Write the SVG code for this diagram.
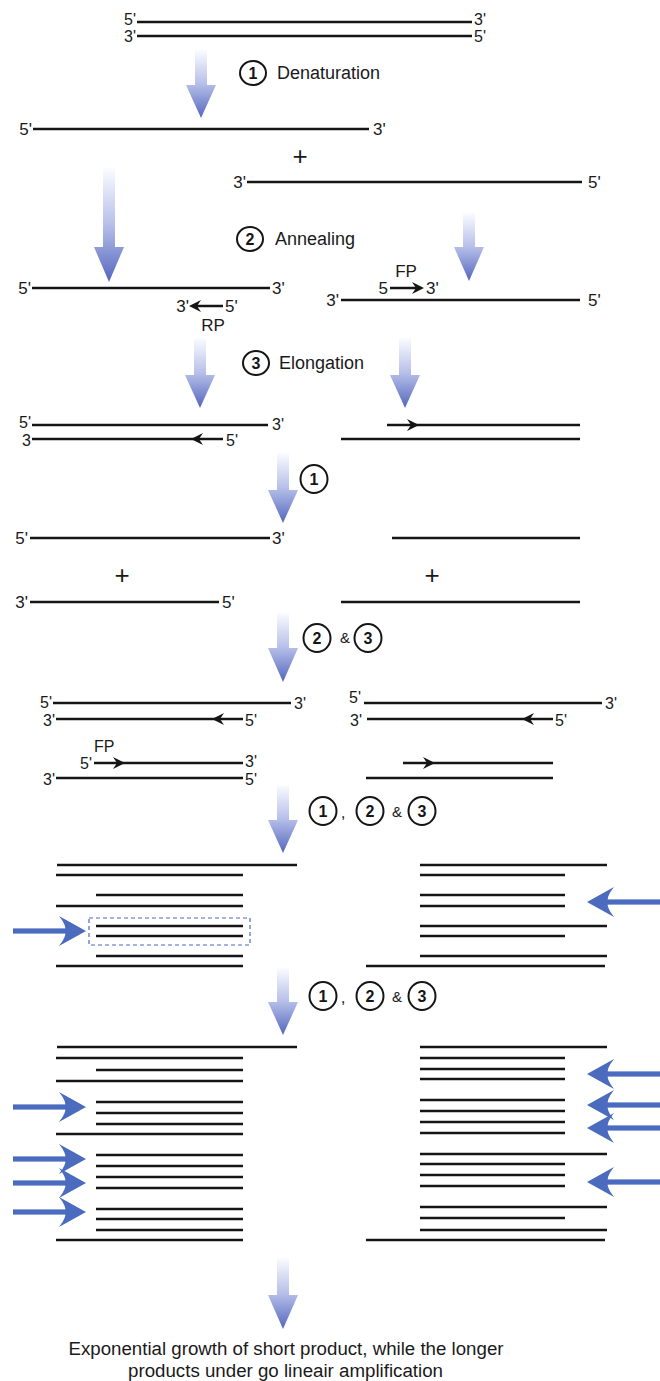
<svg xmlns="http://www.w3.org/2000/svg" width="660" height="1381" viewBox="0 0 660 1381">
<defs>
<linearGradient id="gr" x1="0" y1="0" x2="0" y2="1">
<stop offset="0" stop-color="#fbfcff"/>
<stop offset="0.5" stop-color="#b6bfe9"/>
<stop offset="1" stop-color="#5466bd"/>
</linearGradient>
<path id="ah" d="M0,0 L-12,-6 L-8,0 L-12,6 Z" fill="#151515"/>
<g id="ba" fill="#4b6bbf"><rect x="-73" y="-2.6" width="53" height="5.2"/><path d="M0,0 L-27,-15 Q-19,-5 -21,0 Q-19,5 -27,15 Z"/></g>
</defs>
<style>
.s{stroke:#151515;stroke-width:2.6;fill:none}
.t{font-family:"Liberation Sans",Arial,sans-serif;font-size:17px;fill:#1a1a1a}
.k{font-size:16px}
.e{text-anchor:end}
.m{text-anchor:middle}
.L{font-family:"Liberation Sans",Arial,sans-serif;font-size:18px;fill:#1a1a1a}
.c{fill:none;stroke:#151515;stroke-width:2}
.n{font-family:"Liberation Sans",Arial,sans-serif;font-size:16px;font-weight:bold;fill:#151515;text-anchor:middle}
.p{font-family:"Liberation Sans",Arial,sans-serif;font-size:26px;fill:#1a1a1a;text-anchor:middle}
.g{fill:url(#gr)}
</style>
<rect width="660" height="1381" fill="#ffffff"/>

<g id="connectors">
<path class="g" d="M195,50H207V85H216L201,118L186,85H195Z"/>
<path class="g" d="M103,168H115V247H124L109,282L94,247H103Z"/>
<path class="g" d="M463,213H475V247H484L469,281L454,247H463Z"/>
<path class="g" d="M194,338H206V375H215L200,408L185,375H194Z"/>
<path class="g" d="M399,338H411V375H420L405,408L390,375H399Z"/>
<path class="g" d="M277,453H289V490H298L283,523L268,490H277Z"/>
<path class="g" d="M277,613H289V648H298L283,682L268,648H277Z"/>
<path class="g" d="M277,785H289V820H298L283,853L268,820H277Z"/>
<path class="g" d="M277,968H289V1002H298L283,1035L268,1002H277Z"/>
<path class="g" d="M277,1258H289V1295H298L283,1329L268,1295H277Z"/>
</g>

<g id="start-duplex">
<path class="s" d="M137,22H472M137,36H472"/>
<text class="t k e" x="136" y="25">5'</text>
<text class="t k" x="474" y="25">3'</text>
<text class="t k e" x="136" y="42">3'</text>
<text class="t k" x="474" y="42">5'</text>
</g>

<g id="step1">
<ellipse class="c" cx="253" cy="73" rx="13" ry="12"/>
<text class="n" x="253" y="79">1</text>
<text class="L" x="277" y="79">Denaturation</text>
</g>

<g id="single-strands">
<path class="s" d="M33,129H369M247,182H582"/>
<text class="t e" x="32" y="135">5'</text>
<text class="t" x="373" y="135">3'</text>
<text class="p" x="300" y="165">+</text>
<text class="t e" x="246" y="188">3'</text>
<text class="t" x="588" y="188">5'</text>
</g>

<g id="step2">
<ellipse class="c" cx="250" cy="239" rx="13" ry="12"/>
<text class="n" x="250" y="245">2</text>
<text class="L" x="275" y="245">Annealing</text>
</g>

<g id="annealed-left">
<path class="s" d="M32,288H270M223,306H196"/>
<use href="#ah" transform="translate(189,306) scale(-1,1)"/>
<text class="t e" x="31" y="294">5'</text>
<text class="t" x="272" y="294">3'</text>
<text class="t e" x="189" y="312">3'</text>
<text class="t" x="225" y="312">5'</text>
<text class="t m" x="213" y="331">RP</text>
</g>

<g id="annealed-right">
<path class="s" d="M341,300H580M390,288H417"/>
<use href="#ah" transform="translate(424,288)"/>
<text class="t e" x="339" y="306">3'</text>
<text class="t" x="588" y="306">5'</text>
<text class="t e" x="388" y="294">5</text>
<text class="t" x="426" y="294">3'</text>
<text class="t m" x="406" y="277">FP</text>
</g>

<g id="step3">
<ellipse class="c" cx="256" cy="363" rx="13" ry="12"/>
<text class="n" x="256" y="369">3</text>
<text class="L" x="279" y="369">Elongation</text>
</g>

<g id="elongated-left">
<path class="s" d="M32,425H268M32,439H223"/>
<use href="#ah" transform="translate(191,439) scale(-1,1)"/>
<text class="t k e" x="31" y="428">5'</text>
<text class="t k" x="272" y="430">3'</text>
<text class="t k e" x="31" y="446">3</text>
<text class="t k" x="226" y="446">5'</text>
</g>

<g id="elongated-right">
<path class="s" d="M387,425H580M341,439H580"/>
<use href="#ah" transform="translate(419,425)"/>
</g>

<g id="cycle2-step1">
<ellipse class="c" cx="314" cy="479" rx="13.5" ry="14"/>
<text class="n" x="314" y="485">1</text>
</g>

<g id="cycle2-strands">
<path class="s" d="M30,538H270M392,538H580M30,602H219M341,602H580"/>
<text class="t e" x="28" y="544">5'</text>
<text class="t" x="272" y="544">3'</text>
<text class="p" x="122" y="584">+</text>
<text class="p" x="432" y="584">+</text>
<text class="t e" x="28" y="608">3'</text>
<text class="t" x="222" y="608">5'</text>
</g>

<g id="cycle2-step23">
<ellipse class="c" cx="317" cy="638" rx="13.5" ry="14"/>
<text class="n" x="317" y="644">2</text>
<text class="t m" x="345" y="643" style="font-size:15px">&amp;</text>
<ellipse class="c" cx="368" cy="638" rx="13.5" ry="14"/>
<text class="n" x="368" y="644">3</text>
</g>

<g id="cycle2-products-left">
<path class="s" d="M53,703H291M56,719H243M94,763H243M56,778H243"/>
<use href="#ah" transform="translate(212,719) scale(-1,1)"/>
<use href="#ah" transform="translate(125,763)"/>
<text class="t k e" x="52" y="708">5'</text>
<text class="t k" x="294" y="709">3'</text>
<text class="t k e" x="55" y="726">3'</text>
<text class="t k" x="245" y="726">5'</text>
<text class="t k" x="94" y="752">FP</text>
<text class="t k e" x="92" y="769">5'</text>
<text class="t k" x="245" y="767">3'</text>
<text class="t k e" x="55" y="785">3'</text>
<text class="t k" x="245" y="785">5'</text>
</g>

<g id="cycle2-products-right">
<path class="s" d="M364,703H602M367,719H553M403,763H553M366,778H553"/>
<use href="#ah" transform="translate(522,719) scale(-1,1)"/>
<use href="#ah" transform="translate(435,763)"/>
<text class="t k e" x="361" y="703">5'</text>
<text class="t k" x="605" y="709">3'</text>
<text class="t k e" x="362" y="726">3'</text>
<text class="t k" x="555" y="726">5'</text>
</g>

<g id="cycle3-steps">
<ellipse class="c" cx="323" cy="811" rx="13.5" ry="14"/>
<text class="n" x="323" y="817">1</text>
<text class="t m" x="343" y="818">,</text>
<ellipse class="c" cx="370" cy="811" rx="13.5" ry="14"/>
<text class="n" x="370" y="817">2</text>
<text class="t m" x="397" y="817" style="font-size:15px">&amp;</text>
<ellipse class="c" cx="422" cy="811" rx="13.5" ry="14"/>
<text class="n" x="422" y="817">3</text>
</g>

<g id="cycle3-products-left">
<path class="s" d="M57,865H297M56,875H243M96,895H243M56,906H243M96,926H243M96,936H243M96,956H243M56,966H243"/>
<rect x="89" y="918" width="161" height="27" fill="none" stroke="#4b6bbf" stroke-width="1.2" stroke-dasharray="4,3"/>
<use href="#ba" transform="translate(86,931)"/>
</g>

<g id="cycle3-products-right">
<path class="s" d="M420,865H607M420,875H565M420,895H565M420,906H565M420,926H607M420,936H565M420,956H607M366,966H605"/>
<use href="#ba" transform="translate(587,902) scale(-1,1)"/>
</g>

<g id="cycle4-steps">
<ellipse class="c" cx="323" cy="996" rx="13.5" ry="14"/>
<text class="n" x="323" y="1002">1</text>
<text class="t m" x="343" y="1003">,</text>
<ellipse class="c" cx="370" cy="996" rx="13.5" ry="14"/>
<text class="n" x="370" y="1002">2</text>
<text class="t m" x="397" y="1002" style="font-size:15px">&amp;</text>
<ellipse class="c" cx="422" cy="996" rx="13.5" ry="14"/>
<text class="n" x="422" y="1002">3</text>
</g>

<g id="cycle4-products-left">
<path class="s" d="M57,1047H297M56,1058H243M96,1070H243M56,1081H243M96,1102H243M96,1113H243M96,1124H243M56,1134H243M96,1155H243M96,1166H243M96,1177H243M96,1188H243M96,1209H243M96,1219H243M96,1230H243M56,1240H243"/>
<use href="#ba" transform="translate(86,1107)"/>
<use href="#ba" transform="translate(86,1159)"/>
<use href="#ba" transform="translate(86,1183)"/>
<use href="#ba" transform="translate(86,1212)"/>
</g>

<g id="cycle4-products-right">
<path class="s" d="M420,1047H607M420,1058H565M420,1069H565M420,1079H565M420,1100H565M420,1111H565M420,1122H565M420,1133H565M420,1154H607M420,1164H565M420,1175H565M420,1186H565M420,1207H607M420,1218H565M420,1230H607M366,1240H605"/>
<use href="#ba" transform="translate(587,1074) scale(-1,1)"/>
<use href="#ba" transform="translate(587,1105) scale(-1,1)"/>
<use href="#ba" transform="translate(587,1128) scale(-1,1)"/>
<use href="#ba" transform="translate(587,1182) scale(-1,1)"/>
</g>

<g id="conclusion">
<text class="L m" x="286" y="1355" textLength="435" lengthAdjust="spacingAndGlyphs">Exponential growth of short product, while the longer</text>
<text class="L m" x="285.5" y="1377" textLength="315" lengthAdjust="spacingAndGlyphs">products under go lineair amplification</text>
</g>
</svg>
